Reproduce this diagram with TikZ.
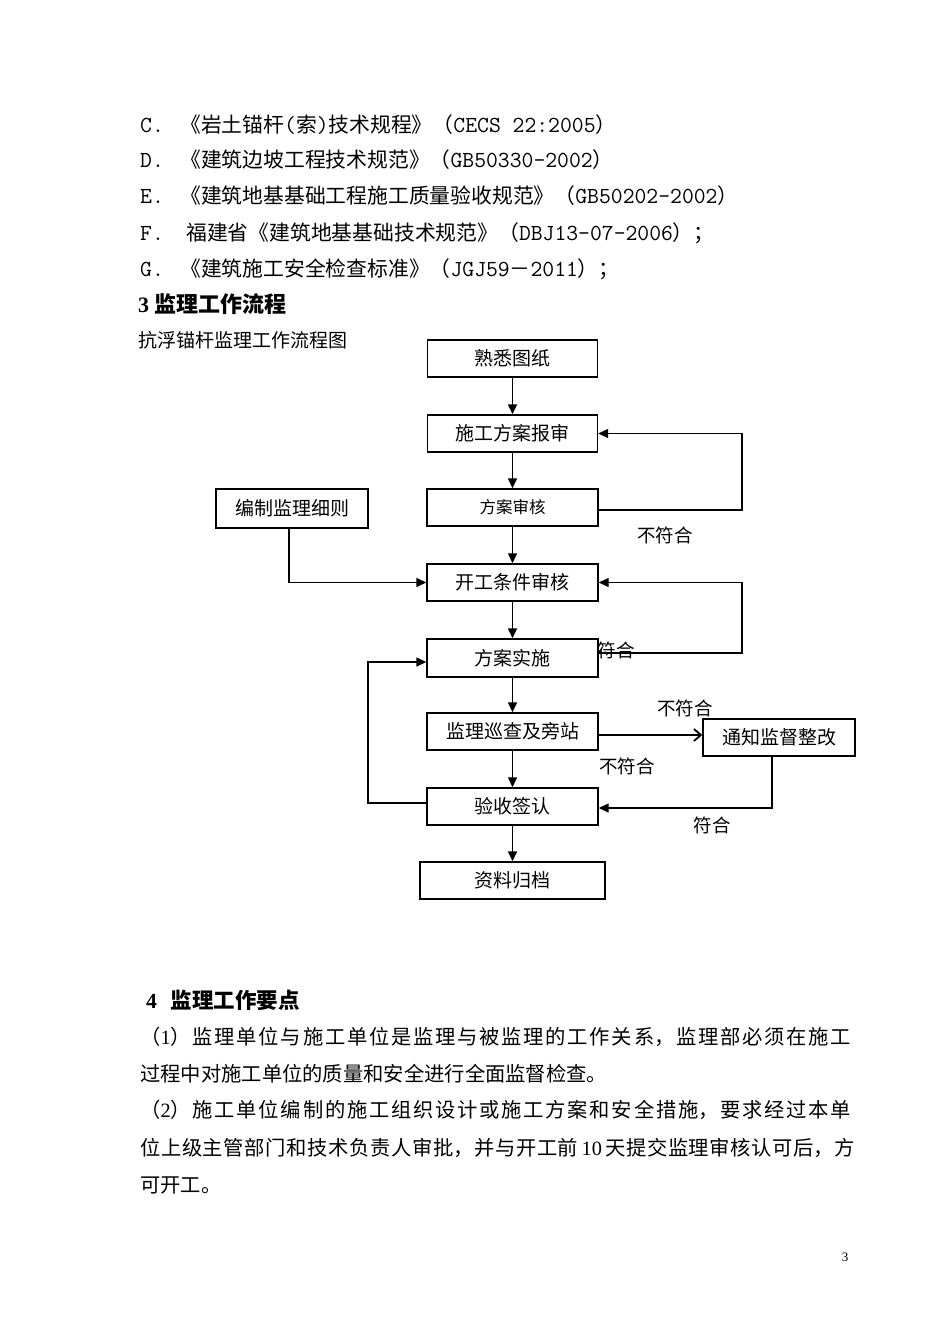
\documentclass[tikz,border=0pt]{standalone}
\usepackage{fontspec}
\setmainfont{Noto Sans CJK SC}
\newfontfamily\tnr{Liberation Serif}
\usetikzlibrary{arrows.meta,calc}
\newcommand\mono[1]{{\fontsize{23}{24}\selectfont\ttfamily #1}}
\newcommand\jline[1]{\noindent\XeTeXlinebreaklocale "zh"\XeTeXlinebreakskip=0pt plus 12pt\relax\parfillskip=0pt\relax #1\par}
\begin{document}
\begin{tikzpicture}[x=1pt,y=-1pt,
  reftext/.style={font=\fontsize{20.8}{24}\selectfont, inner sep=0pt, anchor=west},
  body/.style={font=\fontsize{20.3}{24}\selectfont, inner sep=0pt, anchor=west},
  para/.style={body, text width=717pt},
  box/.style={draw, line width=1.4pt, inner sep=0pt, minimum height=37pt, font=\fontsize{19}{22}\selectfont},
  conn/.style={line width=1.4pt},
  arr/.style={line width=1.4pt, -{Triangle[length=10pt,width=9pt]}},
  openarr/.style={line width=1.4pt, -{Straight Barb[length=7pt,width=12pt,line width=1.8pt]}},
  lab/.style={font=\fontsize{18.5}{22}\selectfont, inner sep=0pt}]
\useasboundingbox (0,0) rectangle (950,1344);
\fill[white] (0,0) rectangle (950,1344);

% reference list
\node[reftext] (lc) at (140,125) {\makebox[40pt][l]{\mono{C.}}《岩土锚杆\mono{(}索\mono{)}技术规程》（\mono{CECS 22:2005}）};
\node[reftext] (ld) at (140,160) {\makebox[40pt][l]{\mono{D.}}《建筑边坡工程技术规范》（\mono{GB50330-2002}）};
\node[reftext] (le) at (140,196) {\makebox[40pt][l]{\mono{E.}}《建筑地基基础工程施工质量验收规范》（\mono{GB50202-2002}）};
\node[reftext] (lf) at (140,233) {\makebox[46pt][l]{\mono{F.}}福建省《建筑地基基础技术规范》（\mono{DBJ13-07-2006}）；};
\node[reftext] (lg) at (140,269) {\makebox[40pt][l]{\mono{G.}}《建筑施工安全检查标准》（\mono{JGJ59}－\mono{2011}）；};

% headings
\node[inner sep=0pt, anchor=west, font=\fontsize{22}{24}\selectfont\bfseries] (h3) at (138,304) {{\tnr 3} 监理工作流程};
\node[inner sep=0pt, anchor=west, font=\fontsize{19}{22}\selectfont] (sub) at (138,340) {抗浮锚杆监理工作流程图};

% flowchart boxes
\node[box, minimum width=170pt] (n1) at (512.5,358.5) {熟悉图纸};
\node[box, minimum width=170pt] (n2) at (512.5,433.5) {施工方案报审};
\node[box, minimum width=171pt, font=\fontsize{16.5}{20}\selectfont] (n3) at (512.5,507.5) {方案审核};
\node[box, minimum width=152pt, minimum height=39pt] (n0) at (292,508.5) {编制监理细则};
\node[box, minimum width=171pt] (n4) at (512.5,582.5) {开工条件审核};
\node[box, minimum width=171pt, minimum height=38pt] (n5) at (512.5,658) {方案实施};
\node[box, minimum width=171pt] (n6) at (512.5,731.5) {监理巡查及旁站};
\node[box, minimum width=152pt] (n7) at (779,737.5) {通知监督整改};
\node[box, minimum width=171pt] (n8) at (512.5,806.5) {验收签认};
\node[box, minimum width=185pt] (n9) at (512.5,880.5) {资料归档};

% vertical arrows
\draw[arr] (n1.south) -- (n2.north);
\draw[arr] (n2.south) -- (n3.north);
\draw[arr] (n3.south) -- (n4.north);
\draw[arr] (n4.south) -- (n5.north);
\draw[arr] (n5.south) -- (n6.north);
\draw[arr] (n6.south) -- (n8.north);
\draw[arr] (n8.south) -- (n9.north);

% loop: 方案审核 -> 施工方案报审
\coordinate (r1) at (742,510);
\draw[arr] (n3.east |- r1) -- (r1) |- (n2.east);
\node[lab] (l1) at (665,535) {不符合};

% 编制监理细则 -> 开工条件审核
\coordinate (c0) at (289,582.5);
\draw[arr] (n0.south -| c0) -- (c0) -- (n4.west);

% loop: 方案实施 -> 开工条件审核
\coordinate (r2) at (742,653);
\draw[arr] (n5.east |- r2) -- (r2) |- (n4.east);
\node[lab] (l2) at (616,650) {符合};

% left loop: 验收签认 -> 方案实施
\coordinate (l3) at (368,803);
\coordinate (l4) at (368,662);
\draw[arr] (n8.west |- l3) -- (l3) -- (l4) -- (n5.west |- l4);

% 监理巡查 -> 通知监督整改
\coordinate (c6) at (600,735);
\draw[openarr] (n6.east |- c6) -- (n7.west |- c6);
\node[lab] (l5) at (685,708) {不符合};
\node[lab] (l6) at (627,766) {不符合};

% 通知监督整改 -> 验收签认
\coordinate (r3) at (772,808);
\draw[arr] (n7.south -| r3) -- (r3) -- (n8.east |- r3);
\node[lab] (l7) at (712,825) {符合};

% section 4
\node[inner sep=0pt, anchor=west, font=\fontsize{21.5}{24}\selectfont\bfseries] (h4) at (146,1000) {{\tnr 4}\hspace{14pt}监理工作要点};
\node[para] (p1) at (140,1037) {\jline{（{\tnr 1}）监理单位与施工单位是监理与被监理的工作关系，监理部必须在施工}};
\node[body] (p2) at (140,1074) {过程中对施工单位的质量和安全进行全面监督检查。};
\node[para] (p3) at (140,1110) {\jline{（{\tnr 2}）施工单位编制的施工组织设计或施工方案和安全措施，要求经过本单}};
\node[para] (p4) at (140,1148) {\jline{位上级主管部门和技术负责人审批，并与开工前{\tnr\,10\,}天提交监理审核认可后，方}};
\node[body] (p5) at (140,1185) {可开工。};

\node[inner sep=0pt, font=\tnr\fontsize{13}{15}\selectfont] (pg) at (845,1257) {3};
\end{tikzpicture}
\end{document}
